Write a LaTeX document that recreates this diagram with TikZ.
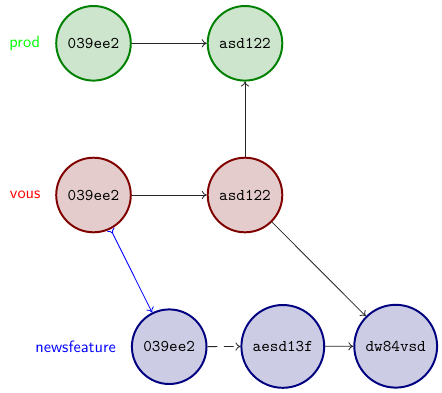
\documentclass[tikz,border=0pt]{standalone}
\usetikzlibrary{arrows.meta}
\begin{document}
\begin{tikzpicture}[x=0.61pt,y=-0.61pt,
  commit/.style={circle,line width=1.2pt,inner sep=5.4pt,font=\ttfamily\fontsize{10}{12}\selectfont},
  gcommit/.style={commit,draw=green!50!black,fill=green!50!black!20},
  rcommit/.style={commit,draw=red!50!black,fill=red!50!black!20},
  bcommit/.style={commit,draw=blue!50!black,fill=blue!50!black!20},
  lbl/.style={anchor=east,inner sep=0pt,font=\sffamily\fontsize{10}{12}\selectfont},
  tip/.tip={To[length=3pt,width=5pt]},
  edge/.style={-tip,line width=0.5pt,black!85}]
\useasboundingbox (0,0) rectangle (442,392);
\node[gcommit] (g1) at (93.5,43.3) {039ee2};
\node[gcommit] (g2) at (245,43.3) {asd122};
\node[rcommit] (r1) at (93.5,195) {039ee2};
\node[rcommit] (r2) at (245,195) {asd122};
\node[bcommit] (b1) at (169.2,346.7) {039ee2};
\node[bcommit] (b2) at (282.8,346.4) {aesd13f};
\node[bcommit] (b3) at (395.7,346.2) {dw84vsd};
\node[lbl,text=green] (lp) at (40.5,43.3) {prod};
\node[lbl,text=red] (lv) at (40.8,195) {vous};
\node[lbl,text=blue] (ln) at (116.3,346.7) {newsfeature};
\draw[edge] (g1) -- (g2);
\draw[edge] (r2) -- (g2);
\draw[edge] (r1) -- (r2);
\draw[edge] (r2) -- (b3);
\draw[{To[length=3pt,width=5pt,reversed]}-tip,line width=0.5pt,blue] (r1) -- (b1);
\draw[edge,dash pattern=on 6pt off 4pt] (b1) -- (b2);
\draw[edge] (b2) -- (b3);
\end{tikzpicture}
\end{document}
